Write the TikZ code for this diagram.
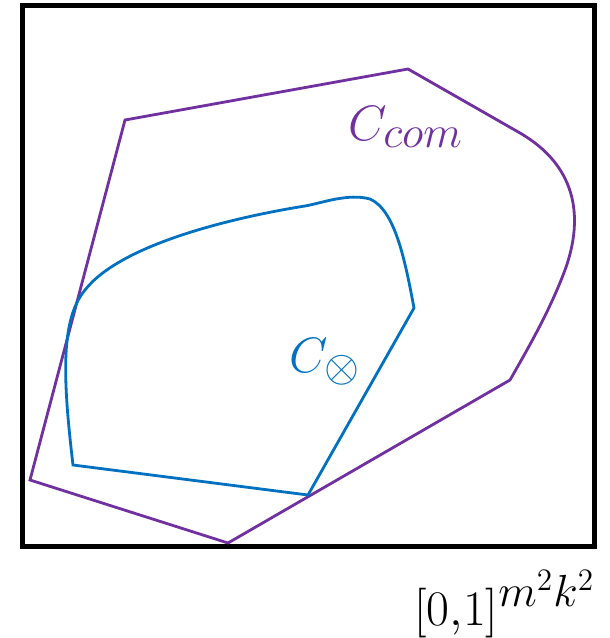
\documentclass[tikz,border=0pt]{standalone}
\usepackage{graphicx}
\usepackage{xcolor}
\definecolor{SetPurple}{HTML}{7030A0}
\definecolor{SetBlue}{HTML}{0070C0}
\newcommand{\bigsub}[1]{\scalebox{1.3}{$\scriptstyle #1$}}
\tikzset{
    % outline styles
    cube/.style={
        rectangle,
        draw=black,
        line width=5pt,
        minimum width=572pt,
        minimum height=541pt,
        inner sep=0pt
    },
    comregion/.style={
        draw=SetPurple,
        line width=2.8pt
    },
    prodregion/.style={
        draw=SetBlue,
        line width=2.8pt
    },
    % label styles
    bigmath/.style={
        font=\fontsize{24}{28}\selectfont,
        scale=2,
        inner sep=0pt
    }
}

\begin{document}
\begin{tikzpicture}[x=1pt, y=-1pt]
    \useasboundingbox (0,0) rectangle (610,638);

    % unit cube
    \node[cube] (cube) at (308,275.5) {};

    % common set
    \draw[comregion] (125,120) -- (408,69) -- (520,133)
        .. controls (575,165) and (585,215) .. (565,270)
        .. controls (550,310) and (530,345) .. (510,380)
        -- (228,543) -- (30,480) -- cycle;

    % product set
    \draw[prodregion] (73,465) -- (308,495) -- (414,308)
        .. controls (405,260) and (395,210) .. (370,199)
        .. controls (348,193) and (322,203) .. (305,206)
        .. controls (230,218) and (120,245) .. (85,290)
        .. controls (60,320) and (63,380) .. (73,465) -- cycle;

    % labels
    \node[bigmath, text=SetPurple, anchor=base west] (comlabel) at (348,140) {$C_{\bigsub{com}}$};
    \node[bigmath, text=SetBlue, anchor=base west] (prodlabel) at (289,372) {$C_{\bigsub{\otimes}}$};
    \node[bigmath, anchor=base west] (cubelabel) at (414,625) {$[0{,}1]^{\bigsub{m^2k^2}}$};
\end{tikzpicture}
\end{document}
